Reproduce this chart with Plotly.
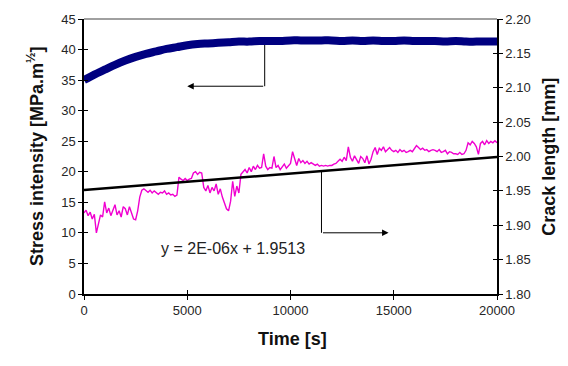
import numpy as np
import plotly.graph_objects as go

# Stress intensity (left axis), sampled every 500 s
k_time = np.arange(0, 20001, 500)
k_values = [
    35.0, 35.9, 36.7, 37.5, 38.2, 38.8, 39.3, 39.7, 40.1, 40.4,
    40.7, 40.9, 41.0, 41.1, 41.2, 41.3, 41.3, 41.4, 41.4, 41.4,
    41.5, 41.5, 41.5, 41.5, 41.5, 41.4, 41.5, 41.4, 41.5, 41.4,
    41.4, 41.5, 41.4, 41.4, 41.4, 41.3, 41.4, 41.3, 41.3, 41.3,
    41.3,
]

# Crack length (right axis), sampled every 100 s
a_time = np.arange(0, 20001, 100)
a_values = [
    1.918, 1.922, 1.914, 1.919, 1.909, 1.916, 1.889, 1.904, 1.915, 1.912,
    1.934, 1.918, 1.925, 1.914, 1.922, 1.930, 1.915, 1.921, 1.912, 1.927,
    1.924, 1.915, 1.927, 1.918, 1.909, 1.908, 1.921, 1.941, 1.951, 1.953,
    1.950, 1.948, 1.951, 1.947, 1.950, 1.948, 1.945, 1.948, 1.947, 1.950,
    1.945, 1.947, 1.944, 1.945, 1.942, 1.944, 1.970, 1.967, 1.965, 1.968,
    1.965, 1.967, 1.968, 1.976, 1.978, 1.974, 1.977, 1.976, 1.955, 1.950,
    1.958, 1.947, 1.955, 1.950, 1.960, 1.945, 1.953, 1.941, 1.932, 1.924,
    1.921, 1.935, 1.964, 1.942, 1.957, 1.947, 1.974, 1.978, 1.981, 1.976,
    1.984, 1.978, 1.986, 1.981, 1.987, 1.983, 1.984, 2.004, 1.986, 1.981,
    1.984, 1.983, 2.000, 1.984, 1.987, 1.981, 1.986, 1.989, 1.983, 1.987,
    1.990, 2.007, 1.996, 1.987, 1.997, 1.991, 1.994, 1.990, 1.993, 1.989,
    1.991, 1.989, 1.987, 1.989, 1.986, 1.987, 1.986, 1.987, 1.986, 1.987,
    1.987, 1.989, 1.990, 1.993, 1.996, 1.993, 1.999, 1.994, 2.014, 1.999,
    1.993, 2.001, 1.996, 1.990, 2.000, 1.997, 1.991, 2.001, 1.989, 1.996,
    2.007, 2.013, 2.003, 2.012, 2.009, 2.014, 2.007, 2.010, 2.013, 2.009,
    2.007, 2.009, 2.006, 2.010, 2.007, 2.009, 2.006, 2.007, 2.009, 2.007,
    2.012, 2.016, 2.013, 2.010, 2.012, 2.009, 2.010, 2.007, 2.009, 2.010,
    2.009, 2.007, 2.010, 2.006, 2.007, 2.009, 2.004, 2.007, 2.006, 2.004,
    2.004, 2.003, 2.006, 2.003, 2.004, 2.009, 2.020, 2.017, 2.022, 2.019,
    2.014, 2.003, 2.019, 2.022, 2.017, 2.023, 2.019, 2.022, 2.020, 2.023,
    2.020,
]

# Linear trendline of crack length
trend_slope = 2.4e-06
trend_intercept = 1.9513
trend_x = np.array([0, 20000])
trend_y = trend_slope * trend_x + trend_intercept
trend_label = f"y = {trend_slope:.0E}x + {trend_intercept:.4f}"

x_ticks = [0, 5000, 10000, 15000, 20000]
x_tick_labels = ["0", "5000", "10000", "15000", "20000"]

FONT = "Arial, Liberation Sans, sans-serif"
TICK_FONT = dict(family=FONT, size=13, color="#262626")
TITLE_FONT = dict(family=FONT, size=18, color="#111111")

fig = go.Figure()

fig.add_trace(go.Scatter(
    x=a_time, y=a_values, mode="lines", yaxis="y2",
    line=dict(color="#F000D0", width=1.4), name="Crack length",
))
fig.add_trace(go.Scatter(
    x=trend_x, y=trend_y, mode="lines", yaxis="y2",
    line=dict(color="black", width=2.5), name="Linear trend",
))
fig.add_trace(go.Scatter(
    x=k_time, y=k_values, mode="lines", yaxis="y",
    line=dict(color="#000080", width=8, shape="spline"), name="Stress intensity",
))
# empty traces that activate the inner tick axes
fig.add_trace(go.Scatter(x=[None], y=[None], xaxis="x2", yaxis="y3", showlegend=False, hoverinfo="skip"))
fig.add_trace(go.Scatter(x=[None], y=[None], xaxis="x2", yaxis="y4", showlegend=False, hoverinfo="skip"))

axis_common = dict(showgrid=False, zeroline=False, ticklen=4, tickwidth=1, tickcolor="black")

fig.update_layout(
    width=568, height=366,
    margin=dict(l=84, r=71, t=16, b=72),
    paper_bgcolor="white", plot_bgcolor="white",
    showlegend=False,
    xaxis=dict(range=[0, 20000], tickvals=x_ticks, ticktext=x_tick_labels, ticks="outside",
               showline=True, linecolor="black", linewidth=1.5,
               tickfont=TICK_FONT, **axis_common),
    yaxis=dict(range=[0, 45], dtick=5, ticks="outside",
               showline=True, linecolor="black", linewidth=1.5,
               tickfont=TICK_FONT, **axis_common),
    yaxis2=dict(range=[1.8, 2.2], dtick=0.05, tickformat=".2f", ticks="outside",
                overlaying="y", side="right", anchor="x",
                showline=True, linecolor="black", linewidth=1.5,
                tickfont=TICK_FONT, **axis_common),
    xaxis2=dict(range=[0, 20000], tickvals=x_ticks, ticks="inside",
                overlaying="x", anchor="y", showticklabels=False, showline=False,
                **axis_common),
    yaxis3=dict(range=[0, 45], dtick=5, ticks="inside", overlaying="y", anchor="x2",
                side="left", showticklabels=False, showline=False, **axis_common),
    yaxis4=dict(range=[1.8, 2.2], dtick=0.05, ticks="inside", overlaying="y", anchor="x2",
                side="right", showticklabels=False, showline=False, **axis_common),
)

# top border of the plot frame
fig.add_shape(type="line", xref="paper", yref="paper", x0=0, x1=1, y0=1, y1=1,
              line=dict(color="#808080", width=1.5))

# pointer: stress-intensity curve -> left axis
fig.add_shape(type="line", xref="x", yref="y", x0=8750, x1=8750, y0=40.8, y1=34.0,
              line=dict(color="black", width=1), layer="below")
fig.add_annotation(x=5000, y=34.0, ax=8750, ay=34.0, xref="x", yref="y",
                   axref="x", ayref="y", text="", showarrow=True,
                   arrowhead=2, arrowsize=1.3, arrowwidth=1, arrowcolor="black", standoff=0)

# pointer: crack-length trend -> right axis
arrow2_x = 11500
fig.add_shape(type="line", xref="x", yref="y2", x0=arrow2_x, x1=arrow2_x,
              y0=trend_slope * arrow2_x + trend_intercept, y1=1.889,
              line=dict(color="black", width=1), layer="below")
fig.add_annotation(x=14750, y=1.889, ax=arrow2_x, ay=1.889, xref="x", yref="y2",
                   axref="x", ayref="y2", text="", showarrow=True,
                   arrowhead=2, arrowsize=1.3, arrowwidth=1, arrowcolor="black", standoff=0)

# trendline equation
fig.add_annotation(x=7200, y=7.45, xref="x", yref="y", text=trend_label, showarrow=False,
                   font=dict(family=FONT, size=16, color="#222222"))

# axis titles
fig.add_annotation(x=-0.150, y=0.5, xref="paper", yref="paper", textangle=-90,
                   text="<b>Stress intensity [MPa.m<sup>½</sup>]</b>", showarrow=False,
                   font=TITLE_FONT)
fig.add_annotation(x=1.153, y=0.5, xref="paper", yref="paper", textangle=-90,
                   text="<b>Crack length [mm]</b>", showarrow=False, font=TITLE_FONT)
fig.add_annotation(x=0.504, y=-0.209, xref="paper", yref="paper",
                   text="<b>Time [s]</b>", showarrow=False, font=TITLE_FONT)

fig.write_html("out.html")
